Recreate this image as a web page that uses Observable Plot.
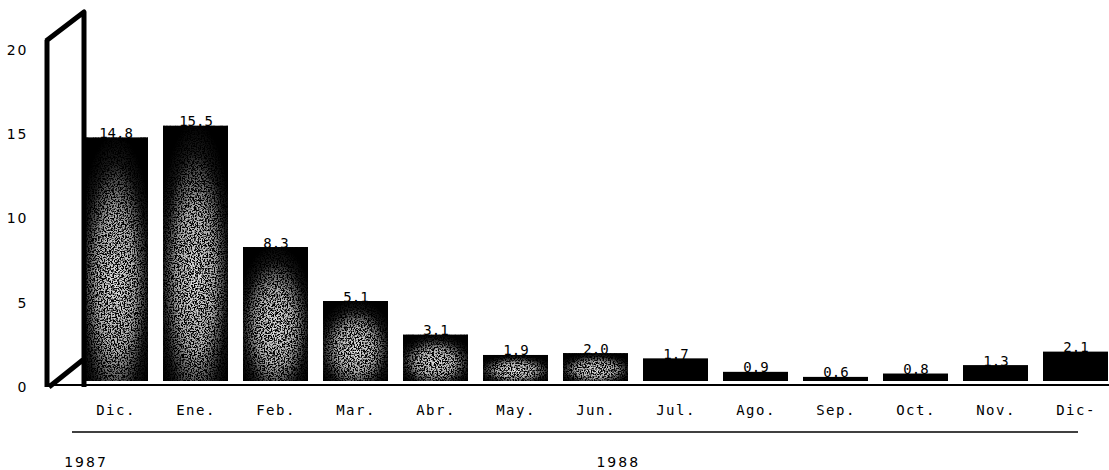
<!DOCTYPE html>
<html>
<head>
<meta charset="utf-8">
<script src="https://cdn.jsdelivr.net/npm/d3@7"></script>
<script src="https://cdn.jsdelivr.net/npm/@observablehq/plot@0.6"></script>
<style>
  html, body { margin: 0; padding: 0; background: white; }
  g[aria-label="x-axis tick label"] text { letter-spacing: 1.5px; }
  g[aria-label="y-axis tick label"] text { letter-spacing: 2px; }
  g[aria-label="value"] text { letter-spacing: 2.5px; }
</style>
</head>
<body>
<script>
const months = ["Dic.", "Ene.", "Feb.", "Mar.", "Abr.", "May.", "Jun.", "Jul.", "Ago.", "Sep.", "Oct.", "Nov.", "Dic-"];
const values = [14.8, 15.5, 8.3, 5.1, 3.1, 1.9, 2.0, 1.7, 0.9, 0.6, 0.8, 1.3, 2.1];
const valueLabels = ["14.8", "15.5", "8.3", "5.1", "3.1", "1.9", "2.0", "1.7", "0.9", "0.6", "0.8", "1.3", "2.1"];
const speckled = ["Dic.", "Ene.", "Feb.", "Mar.", "Abr.", "May.", "Jun."];
const yTicks = [0, 5, 10, 15, 20];
const yearLabels = ["1987", "1988"];

const data = months.map((m, i) => ({m, v: values[i], label: valueLabels[i]}));

const chart = Plot.plot({
  width: 1109,
  height: 470,
  marginLeft: 82,
  marginRight: 0,
  marginTop: 50,
  marginBottom: 83,
  style: {background: "white", color: "black", fontFamily: "'DejaVu Sans Mono', monospace", overflow: "visible"},
  x: {domain: months, paddingInner: 0.19, paddingOuter: 0, label: null},
  y: {domain: [0, 20], label: null},
  marks: [
    Plot.axisY({ticks: yTicks, tickSize: 0, tickPadding: 54, fontSize: 14, fontFamily: "'DejaVu Sans', sans-serif", label: null}),
    Plot.axisX({tickSize: 0, tickPadding: 18, fontSize: 14, label: null}),
    Plot.text(data, {x: "m", y: "v", text: "label", lineAnchor: "bottom", dy: 0, fontSize: 14, ariaLabel: "value"}),
    Plot.barY(data, {x: "m", y: "v", fill: "black", insetBottom: 6}),
    Plot.barY(data.filter(d => speckled.includes(d.m)), {x: "m", y: "v", fill: "url(#speck)", insetBottom: 6, ariaLabel: "speck"})
  ]
});

document.body.appendChild(chart);

const svg = d3.select(chart);
const defs = svg.insert("defs", ":first-child");
const g = defs.append("radialGradient").attr("id", "speck")
  .attr("cx", "50%").attr("cy", "60%").attr("r", "62%");
g.append("stop").attr("offset", "0%").attr("stop-color", "#e0e0e0");
g.append("stop").attr("offset", "45%").attr("stop-color", "#b0b0b0");
g.append("stop").attr("offset", "80%").attr("stop-color", "#1a1a1a");
g.append("stop").attr("offset", "100%").attr("stop-color", "#000");
const f = defs.append("filter").attr("id", "grain")
  .attr("x", "0").attr("y", "0").attr("width", "1").attr("height", "1")
  .attr("color-interpolation-filters", "sRGB");
f.append("feTurbulence").attr("type", "fractalNoise").attr("baseFrequency", "0.7").attr("numOctaves", "2").attr("seed", "4").attr("result", "n");
f.append("feColorMatrix").attr("in", "n").attr("type", "matrix")
  .attr("values", "0 0 0 0 0  0 0 0 0 0  0 0 0 0 0  6 0 0 0 -2.6").attr("result", "a");
f.append("feComposite").attr("in", "a").attr("in2", "SourceGraphic").attr("operator", "in").attr("result", "dots");
const mg = f.append("feMerge");
mg.append("feMergeNode").attr("in", "SourceGraphic");
mg.append("feMergeNode").attr("in", "dots");
svg.selectAll('g[fill="url(#speck)"], g[aria-label="speck"]').attr("filter", "url(#grain)");

const y = chart.scale("y");
const x = chart.scale("x");
const y0 = y.apply(0);
const yTop = y.apply(20);

// 3D wall at the left and baseline
svg.append("path")
  .attr("d", `M47,${yTop - 10} L47,${y0} M46,${yTop - 9} L84,${yTop - 38} L84,${y0} M49,${y0} L84,${y0 - 28}`)
  .attr("fill", "none").attr("stroke", "black").attr("stroke-width", 5).attr("stroke-linejoin", "round");
svg.append("line")
  .attr("x1", 49).attr("x2", 1109).attr("y1", y0 - 2).attr("y2", y0 - 2)
  .attr("stroke", "black").attr("stroke-width", 2);

// separator line and years
svg.append("line")
  .attr("x1", 72).attr("x2", 1078).attr("y1", 432).attr("y2", 432)
  .attr("stroke", "black").attr("stroke-width", 1.5);
svg.append("text")
  .attr("x", x.apply("Dic.") + 3).attr("y", 467)
  .attr("font-family", "'DejaVu Sans', sans-serif").attr("font-size", 14)
  .attr("letter-spacing", "2px").attr("fill", "black")
  .text(yearLabels[0]);
svg.append("text")
  .attr("x", x.apply("Jun.") + x.bandwidth * 0.85).attr("y", 467)
  .attr("text-anchor", "middle")
  .attr("font-family", "'DejaVu Sans', sans-serif").attr("font-size", 14)
  .attr("letter-spacing", "2px").attr("fill", "black")
  .text(yearLabels[1]);
</script>
</body>
</html>
